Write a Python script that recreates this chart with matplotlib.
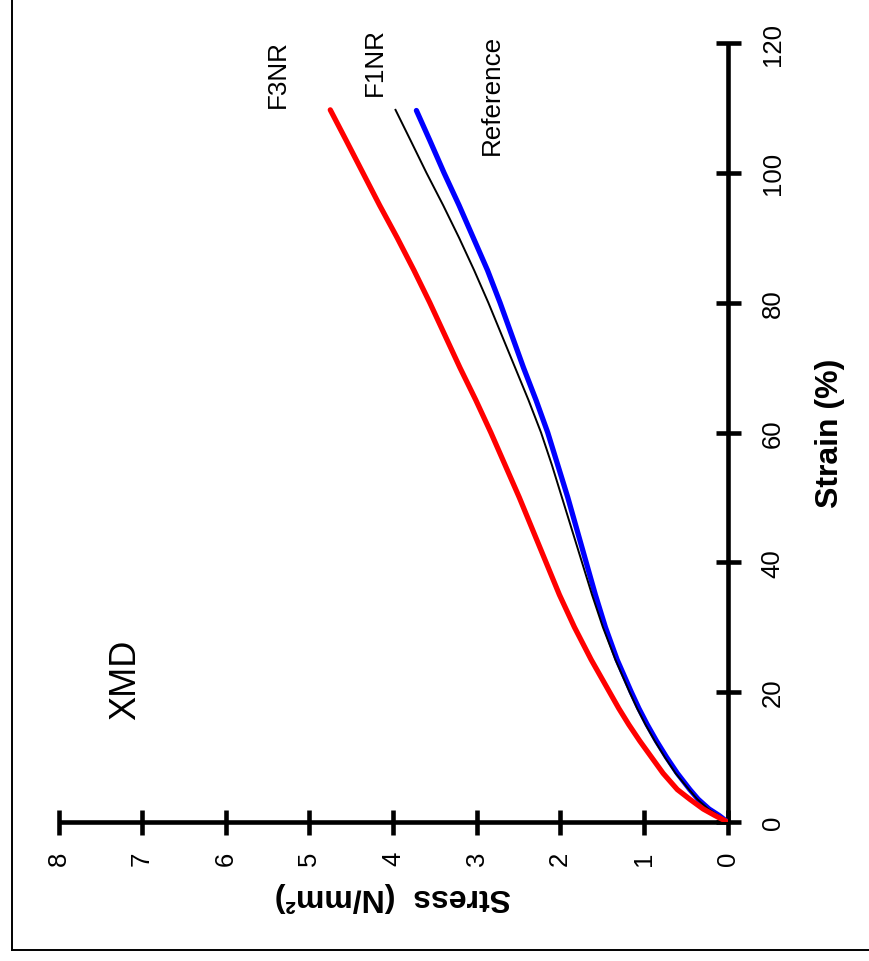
import matplotlib
matplotlib.use("Agg")
import matplotlib.pyplot as plt
from matplotlib.lines import Line2D

plt.rcParams['font.family'] = ['Liberation Sans', 'DejaVu Sans']

# Strain (%) / Stress (N/mm²) readings for each sample
strain_f3nr = [0, 1, 2, 3.5, 5, 7.5, 10, 12.5, 15, 17.5, 20, 25, 30, 35, 40, 45, 50,
               55, 60, 65, 70, 75, 80, 85, 90, 95, 100, 105, 109.7]
stress_f3nr = [0, 0.15, 0.29, 0.45, 0.60, 0.77, 0.91, 1.05, 1.18, 1.30, 1.41, 1.63, 1.83,
               2.01, 2.17, 2.33, 2.49, 2.66, 2.83, 3.01, 3.20, 3.38, 3.56, 3.75, 3.95,
               4.16, 4.36, 4.56, 4.75]

strain_f1nr = [0, 1, 2, 3.5, 5, 7.5, 10, 12.5, 15, 17.5, 20, 25, 30, 35, 40, 45, 50,
               55, 60, 65, 70, 75, 80, 85, 90, 95, 100, 105, 109.7]
stress_f1nr = [0, 0.11, 0.23, 0.36, 0.46, 0.62, 0.75, 0.87, 0.98, 1.08, 1.17, 1.34, 1.49,
               1.62, 1.74, 1.86, 1.98, 2.10, 2.23, 2.38, 2.54, 2.70, 2.86, 3.03, 3.21,
               3.40, 3.60, 3.79, 3.97]

strain_ref = [0, 1, 2, 3.5, 5, 7.5, 10, 12.5, 15, 17.5, 20, 25, 30, 35, 40, 45, 50,
              55, 60, 65, 70, 75, 80, 85, 90, 95, 100, 105, 109.6]
stress_ref = [0, 0.10, 0.22, 0.35, 0.45, 0.60, 0.73, 0.85, 0.96, 1.06, 1.15, 1.32, 1.46,
              1.58, 1.69, 1.80, 1.91, 2.03, 2.15, 2.29, 2.44, 2.58, 2.72, 2.87, 3.04,
              3.21, 3.39, 3.56, 3.72]

stress_ticks = [0, 1, 2, 3, 4, 5, 6, 7, 8]
strain_ticks = [0, 20, 40, 60, 80, 100, 120]

W, H = 869, 962
fig = plt.figure(figsize=(W / 100, H / 100), dpi=100)

# plot area: stress runs right-to-left along the bottom, strain runs upward
x0, x1 = 58.5, 727.5
y_top, y_bot = 44, 823
ax = fig.add_axes([x0 / W, 1 - y_bot / H, (x1 - x0) / W, (y_bot - y_top) / H])
ax.set_xlim(8, 0)
ax.set_ylim(0, 120)

ax.plot(stress_ref, strain_ref, color='#0000ff', lw=3.8, solid_capstyle='round',
        solid_joinstyle='round', zorder=3)
ax.plot(stress_f1nr, strain_f1nr, color='black', lw=1.4, solid_joinstyle='round', zorder=4)
ax.plot(stress_f3nr, strain_f3nr, color='#ff0000', lw=3.8, solid_capstyle='round',
        solid_joinstyle='round', zorder=5)

for side in ('top', 'left'):
    ax.spines[side].set_visible(False)
for side in ('bottom', 'right'):
    ax.spines[side].set_linewidth(3.3)
    ax.spines[side].set_capstyle('butt')

ax.set_xticks(stress_ticks)
ax.set_yticks(strain_ticks)
ax.xaxis.set_ticks_position('bottom')
ax.yaxis.set_ticks_position('right')
ax.tick_params(axis='both', direction='inout', length=18, width=3.3, labelsize=18.5,
               color='black')
ax.tick_params(axis='x', pad=11.5)
ax.tick_params(axis='y', pad=15)
for lab in ax.get_xticklabels():
    lab.set_rotation(90)
    lab.set_va('top')
    lab.set_ha('center')
for lab in ax.get_yticklabels():
    lab.set_rotation(90)
    lab.set_va('center')
    lab.set_ha('left')

ax.set_xlabel('Stress  (N/mm²)', fontsize=23, fontweight='bold', rotation=180, labelpad=11.5)
ax.set_ylabel('Strain (%)', fontsize=23, fontweight='bold', rotation=90, labelpad=22)
ax.yaxis.set_label_position('right')

# series labels and panel title
def fig_text(px, py, s, size):
    fig.text(px / W, 1 - py / H, s, rotation=90, fontsize=size, ha='center', va='center')

fig_text(278, 74, 'F3NR', 18.7)
fig_text(375, 62, 'F1NR', 18.7)
fig_text(492, 95, 'Reference', 18.7)
fig_text(126, 680, 'XMD', 26)

# outer frame lines
fig.add_artist(Line2D([12 / W, 12 / W], [1.0, 1 - 951 / H], color='black', lw=1.4,
                      transform=fig.transFigure))
fig.add_artist(Line2D([12 / W, 1.0], [1 - 951 / H, 1 - 951 / H], color='black', lw=1.4,
                      transform=fig.transFigure))

fig.savefig('out.png', dpi=100, facecolor='white')
